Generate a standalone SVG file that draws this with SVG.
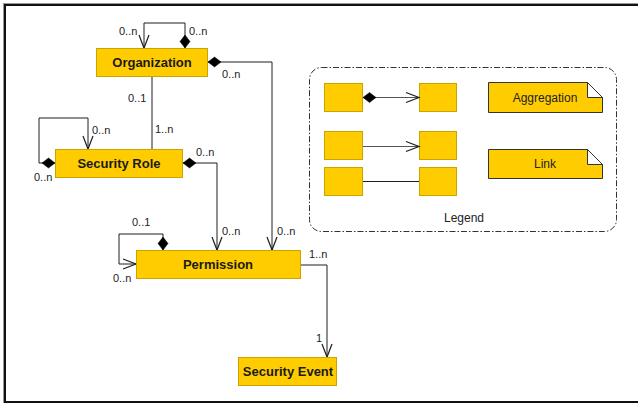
<svg xmlns="http://www.w3.org/2000/svg" width="638" height="403" viewBox="0 0 638 403">
  <style>
    .node rect { fill: #FFCC00; stroke: #C9A300; stroke-width: 1; }
    .node text { font-family: "Liberation Sans", Arial, sans-serif; font-size: 13px; font-weight: bold; fill: #1a1a1a; text-anchor: middle; }
    .lbl { font-family: "Liberation Sans", Arial, sans-serif; font-size: 11px; fill: #222; }
    .conn { fill: none; stroke: #1e1e1e; stroke-width: 1; }
    .lgline { fill: none; stroke: #555; stroke-width: 1.2; }
    .box { fill: #FFCC00; stroke: #C9A300; stroke-width: 1; }
    .note { fill: #FFCC00; stroke: #333; stroke-width: 1; }
    .notetext { font-family: "Liberation Sans", Arial, sans-serif; font-size: 12px; fill: #222; text-anchor: middle; }
  </style>
  <defs>
    <marker id="arrow" viewBox="-14 -7 16 14" refX="0" refY="0" markerWidth="16" markerHeight="14" markerUnits="userSpaceOnUse" orient="auto" overflow="visible">
      <path d="M-13,-5 L0,0 L-13,5" fill="none" stroke="#1e1e1e" stroke-width="1.2"/>
    </marker>
    <marker id="diamond" viewBox="-1 -6 15 12" refX="0" refY="0" markerWidth="15" markerHeight="12" markerUnits="userSpaceOnUse" orient="auto" overflow="visible">
      <path d="M0,0 L6.5,-5 L13,0 L6.5,5 Z" fill="#000" stroke="#000" stroke-width="0.5"/>
    </marker>
  </defs>

  <!-- outer frame -->
  <rect x="0" y="0" width="638" height="403" fill="#fff"/>
  <rect x="3.5" y="3.5" width="640" height="402" fill="none" stroke="#999" stroke-width="1"/>
  <rect x="5" y="5" width="640" height="397" fill="none" stroke="#111" stroke-width="2"/>

  <!-- connectors -->
  <g id="connectors">
    <path class="conn" d="M185,48 V23 H144 V48" marker-start="url(#diamond)" marker-end="url(#arrow)"/>
    <path class="conn" d="M208,62 H272 V250" marker-start="url(#diamond)" marker-end="url(#arrow)"/>
    <path class="conn" d="M152,77 V149"/>
    <path class="conn" d="M55,163 H39 V118 H88 V149" marker-start="url(#diamond)" marker-end="url(#arrow)"/>
    <path class="conn" d="M183,163 H217 V250" marker-start="url(#diamond)" marker-end="url(#arrow)"/>
    <path class="conn" d="M163,250 V234 H119 V264 H136" marker-start="url(#diamond)" marker-end="url(#arrow)"/>
    <path class="conn" d="M301,265 H327 V357" marker-end="url(#arrow)"/>
  </g>

  <!-- multiplicity labels -->
  <g id="labels">
    <text class="lbl" x="119" y="35">0..n</text>
    <text class="lbl" x="189" y="35">0..n</text>
    <text class="lbl" x="222" y="78">0..n</text>
    <text class="lbl" x="128" y="102">0..1</text>
    <text class="lbl" x="155" y="133">1..n</text>
    <text class="lbl" x="92" y="134">0..n</text>
    <text class="lbl" x="34" y="181">0..n</text>
    <text class="lbl" x="196" y="156">0..n</text>
    <text class="lbl" x="132" y="226">0..1</text>
    <text class="lbl" x="222" y="235">0..n</text>
    <text class="lbl" x="277" y="235">0..n</text>
    <text class="lbl" x="113" y="282">0..n</text>
    <text class="lbl" x="309" y="258">1..n</text>
    <text class="lbl" x="316" y="342">1</text>
  </g>

  <!-- classes -->
  <g id="organization" class="node">
    <rect x="96.5" y="48.5" width="111" height="28"/>
    <text x="152" y="67">Organization</text>
  </g>
  <g id="security-role" class="node">
    <rect x="55.5" y="149.5" width="127" height="28"/>
    <text x="119" y="168">Security Role</text>
  </g>
  <g id="permission" class="node">
    <rect x="136.5" y="250.5" width="164" height="28"/>
    <text x="218" y="269">Permission</text>
  </g>
  <g id="security-event" class="node">
    <rect x="238.5" y="357.5" width="98" height="28"/>
    <text x="288" y="376">Security Event</text>
  </g>

  <!-- legend -->
  <g id="legend">
    <rect x="309.5" y="67.5" width="307" height="164" rx="12" ry="12" fill="none" stroke="#333" stroke-width="1" stroke-dasharray="6,2,1.5,2"/>
    <rect class="box" x="324.5" y="83.5" width="38" height="28"/>
    <rect class="box" x="419.5" y="83.5" width="37" height="28"/>
    <rect class="box" x="324.5" y="131.5" width="38" height="28"/>
    <rect class="box" x="419.5" y="131.5" width="37" height="28"/>
    <rect class="box" x="324.5" y="167.5" width="38" height="28"/>
    <rect class="box" x="419.5" y="167.5" width="37" height="28"/>
    <path class="lgline" d="M363,97.5 H419" marker-start="url(#diamond)" marker-end="url(#arrow)"/>
    <path class="lgline" d="M363,146.5 H419" marker-end="url(#arrow)"/>
    <path class="conn" d="M363,181.5 H419"/>

    <path class="note" d="M488.5,82.5 H587.5 L602.5,97.5 V112.5 H488.5 Z"/>
    <path d="M587.5,82.5 V97.5 H602.5 Z" fill="#fff" stroke="#333" stroke-width="1"/>
    <text class="notetext" x="545" y="102">Aggregation</text>

    <path class="note" d="M488.5,149.5 H587.5 L602.5,164.5 V178.5 H488.5 Z"/>
    <path d="M587.5,149.5 V164.5 H602.5 Z" fill="#fff" stroke="#333" stroke-width="1"/>
    <text class="notetext" x="545" y="168">Link</text>

    <text class="notetext" x="464" y="222">Legend</text>
  </g>
</svg>
